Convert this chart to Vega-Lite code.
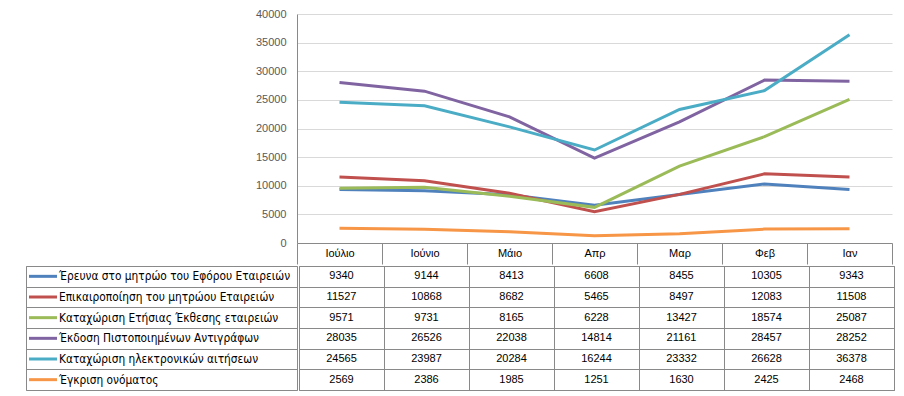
{
  "$schema": "https://vega.github.io/schema/vega-lite/v6.json",
  "padding": {"left": 22, "top": 8, "right": 0, "bottom": 0},
  "autosize": {"type": "pad"},
  "background": "white",
  "spacing": 0,
  "config": {"view": {"stroke": null}, "font": "Liberation Sans", "concat": {"spacing": 0}},
  "data": {"values": [
    {"series": "Έρευνα στο μητρώο του Εφόρου Εταιρειών", "month": "Ιούλιο", "value": 9340},
    {"series": "Έρευνα στο μητρώο του Εφόρου Εταιρειών", "month": "Ιούνιο", "value": 9144},
    {"series": "Έρευνα στο μητρώο του Εφόρου Εταιρειών", "month": "Μάιο", "value": 8413},
    {"series": "Έρευνα στο μητρώο του Εφόρου Εταιρειών", "month": "Απρ", "value": 6608},
    {"series": "Έρευνα στο μητρώο του Εφόρου Εταιρειών", "month": "Μαρ", "value": 8455},
    {"series": "Έρευνα στο μητρώο του Εφόρου Εταιρειών", "month": "Φεβ", "value": 10305},
    {"series": "Έρευνα στο μητρώο του Εφόρου Εταιρειών", "month": "Ιαν", "value": 9343},
    {"series": "Επικαιροποίηση του μητρώου Εταιρειών", "month": "Ιούλιο", "value": 11527},
    {"series": "Επικαιροποίηση του μητρώου Εταιρειών", "month": "Ιούνιο", "value": 10868},
    {"series": "Επικαιροποίηση του μητρώου Εταιρειών", "month": "Μάιο", "value": 8682},
    {"series": "Επικαιροποίηση του μητρώου Εταιρειών", "month": "Απρ", "value": 5465},
    {"series": "Επικαιροποίηση του μητρώου Εταιρειών", "month": "Μαρ", "value": 8497},
    {"series": "Επικαιροποίηση του μητρώου Εταιρειών", "month": "Φεβ", "value": 12083},
    {"series": "Επικαιροποίηση του μητρώου Εταιρειών", "month": "Ιαν", "value": 11508},
    {"series": "Καταχώριση Ετήσιας Έκθεσης εταιρειών", "month": "Ιούλιο", "value": 9571},
    {"series": "Καταχώριση Ετήσιας Έκθεσης εταιρειών", "month": "Ιούνιο", "value": 9731},
    {"series": "Καταχώριση Ετήσιας Έκθεσης εταιρειών", "month": "Μάιο", "value": 8165},
    {"series": "Καταχώριση Ετήσιας Έκθεσης εταιρειών", "month": "Απρ", "value": 6228},
    {"series": "Καταχώριση Ετήσιας Έκθεσης εταιρειών", "month": "Μαρ", "value": 13427},
    {"series": "Καταχώριση Ετήσιας Έκθεσης εταιρειών", "month": "Φεβ", "value": 18574},
    {"series": "Καταχώριση Ετήσιας Έκθεσης εταιρειών", "month": "Ιαν", "value": 25087},
    {"series": "Έκδοση Πιστοποιημένων Αντιγράφων", "month": "Ιούλιο", "value": 28035},
    {"series": "Έκδοση Πιστοποιημένων Αντιγράφων", "month": "Ιούνιο", "value": 26526},
    {"series": "Έκδοση Πιστοποιημένων Αντιγράφων", "month": "Μάιο", "value": 22038},
    {"series": "Έκδοση Πιστοποιημένων Αντιγράφων", "month": "Απρ", "value": 14814},
    {"series": "Έκδοση Πιστοποιημένων Αντιγράφων", "month": "Μαρ", "value": 21161},
    {"series": "Έκδοση Πιστοποιημένων Αντιγράφων", "month": "Φεβ", "value": 28457},
    {"series": "Έκδοση Πιστοποιημένων Αντιγράφων", "month": "Ιαν", "value": 28252},
    {"series": "Καταχώριση ηλεκτρονικών αιτήσεων", "month": "Ιούλιο", "value": 24565},
    {"series": "Καταχώριση ηλεκτρονικών αιτήσεων", "month": "Ιούνιο", "value": 23987},
    {"series": "Καταχώριση ηλεκτρονικών αιτήσεων", "month": "Μάιο", "value": 20284},
    {"series": "Καταχώριση ηλεκτρονικών αιτήσεων", "month": "Απρ", "value": 16244},
    {"series": "Καταχώριση ηλεκτρονικών αιτήσεων", "month": "Μαρ", "value": 23332},
    {"series": "Καταχώριση ηλεκτρονικών αιτήσεων", "month": "Φεβ", "value": 26628},
    {"series": "Καταχώριση ηλεκτρονικών αιτήσεων", "month": "Ιαν", "value": 36378},
    {"series": "Έγκριση ονόματος", "month": "Ιούλιο", "value": 2569},
    {"series": "Έγκριση ονόματος", "month": "Ιούνιο", "value": 2386},
    {"series": "Έγκριση ονόματος", "month": "Μάιο", "value": 1985},
    {"series": "Έγκριση ονόματος", "month": "Απρ", "value": 1251},
    {"series": "Έγκριση ονόματος", "month": "Μαρ", "value": 1630},
    {"series": "Έγκριση ονόματος", "month": "Φεβ", "value": 2425},
    {"series": "Έγκριση ονόματος", "month": "Ιαν", "value": 2468}
  ]},
  "vconcat": [
    {
      "spacing": 0,
      "bounds": "flush",
      "hconcat": [
        {
          "width": 271,
          "height": 229,
          "transform": [{"filter": "false"}],
          "mark": {"type": "point", "opacity": 0},
          "encoding": {}
        },
        {
          "width": 595,
          "height": 229,
          "mark": {"type": "line", "strokeWidth": 3},
          "encoding": {
            "x": {
              "field": "month", "type": "nominal",
              "sort": ["Ιούλιο", "Ιούνιο", "Μάιο", "Απρ", "Μαρ", "Φεβ", "Ιαν"],
              "bandPosition": 0.5,
              "scale": {"type": "band", "paddingInner": 0, "paddingOuter": 0},
              "axis": {"title": null, "tickBand": "extent", "tickSize": 21, "tickColor": "#898989", "domainColor": "#898989", "labelPadding": -10.5, "labelBaseline": "middle", "labelAngle": 0, "labelFontSize": 11, "labelColor": "#000000", "grid": false}
            },
            "y": {
              "field": "value", "type": "quantitative",
              "scale": {"domain": [0, 40000], "nice": false},
              "axis": {"title": null, "values": [0, 5000, 10000, 15000, 20000, 25000, 30000, 35000, 40000], "format": "d", "grid": true, "gridColor": "#D9D9D9", "ticks": false, "domainColor": "#898989", "labelPadding": 11, "labelColor": "#595959", "labelFontSize": 11}
            },
            "color": {
              "field": "series", "type": "nominal",
              "scale": {
                "domain": ["Έρευνα στο μητρώο του Εφόρου Εταιρειών", "Επικαιροποίηση του μητρώου Εταιρειών", "Καταχώριση Ετήσιας Έκθεσης εταιρειών", "Έκδοση Πιστοποιημένων Αντιγράφων", "Καταχώριση ηλεκτρονικών αιτήσεων", "Έγκριση ονόματος"],
                "range": ["#4F81BD", "#C0504D", "#9BBB59", "#8064A2", "#4BACC6", "#F79646"]
              },
              "legend": null
            }
          }
        }
      ]
    },
    {
      "spacing": 0,
      "hconcat": [
        {
          "width": 271,
          "height": 124,
          "view": {"stroke": "#898989"},
          "transform": [{"filter": "datum.month == 'Ιούλιο'"}],
          "encoding": {
            "y": {
              "field": "series", "type": "nominal",
              "sort": ["Έρευνα στο μητρώο του Εφόρου Εταιρειών", "Επικαιροποίηση του μητρώου Εταιρειών", "Καταχώριση Ετήσιας Έκθεσης εταιρειών", "Έκδοση Πιστοποιημένων Αντιγράφων", "Καταχώριση ηλεκτρονικών αιτήσεων", "Έγκριση ονόματος"],
              "scale": {"type": "band", "paddingInner": 0, "paddingOuter": 0},
              "axis": {"title": null, "labels": false, "ticks": false, "domain": false, "grid": true, "tickBand": "extent", "gridColor": "#898989"}
            }
          },
          "layer": [
            {
              "mark": {"type": "point", "shape": "stroke", "size": 784, "strokeWidth": 3, "filled": false, "opacity": 1, "xOffset": -118.5},
              "encoding": {
                "color": {
                  "field": "series", "type": "nominal",
                  "scale": {
                    "domain": ["Έρευνα στο μητρώο του Εφόρου Εταιρειών", "Επικαιροποίηση του μητρώου Εταιρειών", "Καταχώριση Ετήσιας Έκθεσης εταιρειών", "Έκδοση Πιστοποιημένων Αντιγράφων", "Καταχώριση ηλεκτρονικών αιτήσεων", "Έγκριση ονόματος"],
                    "range": ["#4F81BD", "#C0504D", "#9BBB59", "#8064A2", "#4BACC6", "#F79646"]
                  },
                  "legend": null
                }
              }
            },
            {
              "mark": {"type": "text", "align": "left", "baseline": "middle", "dx": -102.5, "fontSize": 11.8, "font": "DejaVu Sans Condensed", "color": "#000000"},
              "encoding": {"text": {"field": "series", "type": "nominal"}}
            }
          ]
        },
        {
          "width": 595,
          "height": 124,
          "view": {"stroke": "#898989"},
          "mark": {"type": "text", "fontSize": 11, "color": "#000000", "baseline": "middle"},
          "encoding": {
            "x": {
              "field": "month", "type": "nominal",
              "sort": ["Ιούλιο", "Ιούνιο", "Μάιο", "Απρ", "Μαρ", "Φεβ", "Ιαν"],
              "scale": {"type": "band", "paddingInner": 0, "paddingOuter": 0},
              "axis": {"title": null, "orient": "top", "labels": false, "ticks": false, "domain": false, "grid": true, "tickBand": "extent", "gridColor": "#898989"}
            },
            "y": {
              "field": "series", "type": "nominal",
              "sort": ["Έρευνα στο μητρώο του Εφόρου Εταιρειών", "Επικαιροποίηση του μητρώου Εταιρειών", "Καταχώριση Ετήσιας Έκθεσης εταιρειών", "Έκδοση Πιστοποιημένων Αντιγράφων", "Καταχώριση ηλεκτρονικών αιτήσεων", "Έγκριση ονόματος"],
              "scale": {"type": "band", "paddingInner": 0, "paddingOuter": 0},
              "axis": {"title": null, "labels": false, "ticks": false, "domain": false, "grid": true, "tickBand": "extent", "gridColor": "#898989"}
            },
            "text": {"field": "value", "type": "quantitative", "format": "d"}
          }
        }
      ]
    }
  ]
}
